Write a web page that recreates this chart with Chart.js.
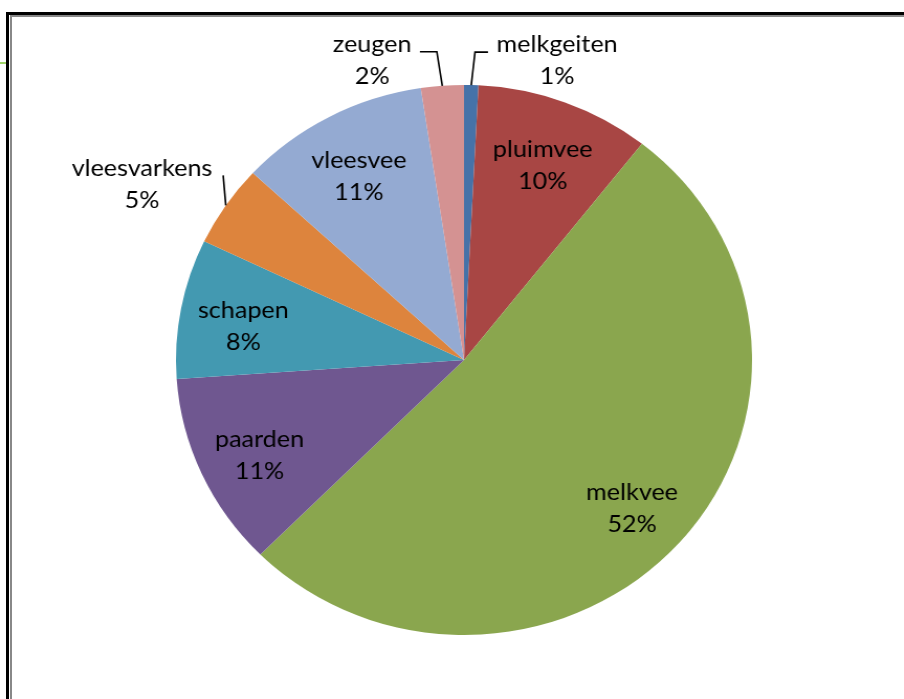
<!DOCTYPE html>
<html>
<head>
<meta charset="utf-8">
<script src="https://cdn.jsdelivr.net/npm/chart.js@4.4.1/dist/chart.umd.min.js"></script>
<style>
    body { margin: 0; background: #fff; overflow: hidden; }
    #wrap { position: relative; width: 904px; height: 699px; }
    /* the original picture is stretched a bit horizontally */
    #taart { position: absolute; left: 0; top: 0; transform: scaleX(1.0474); transform-origin: 0 0; }
    .lijn { position: absolute; }
</style>
</head>
<body>
<div id="wrap">
    <canvas id="taart" width="863" height="699"></canvas>
    <div class="lijn" style="left:6px; top:12px; width:3px; height:687px; background:#000;"></div>
    <div class="lijn" style="left:6px; top:12px; width:898px; height:3px; background:#000;"></div>
    <div class="lijn" style="left:10px; top:15px; width:2px; height:684px; background:#888;"></div>
    <div class="lijn" style="left:10px; top:15px; width:894px; height:2px; background:#888;"></div>
    <div class="lijn" style="left:0; top:62px; width:6px; height:2px; background:#9fd468;"></div>
</div>
<script>
const categorieen = ['melkgeiten', 'pluimvee', 'melkvee', 'paarden', 'schapen', 'vleesvarkens', 'vleesvee', 'zeugen'];
const aandelen = [0.8, 9.8, 51.9, 11.4, 8.2, 4.8, 10.7, 2.4];
const kleuren = ['#4672A8', '#A84644', '#8AA64E', '#6F5790', '#4399B1', '#DD843D', '#94AAD2', '#D49292'];

// labels die buiten de taart staan, met hun verschuiving t.o.v. de rand
var buitenLabels = {
    'melkgeiten':   { dx: 82, dy: -25, knik: [3.6, -33], eind: [16, -33] },
    'zeugen':       { dx: -67, dy: -26, knik: [-5.2, -34], eind: [-21.4, -34] },
    'vleesvarkens': { dx: -80, dy: -21, knik: null, eind: [-2.5, -30] }
};

var labelPlugin = {
    id: 'taartLabels',
    afterDatasetsDraw: function(chart) {
        var ctx = chart.ctx;
        var meta = chart.getDatasetMeta(0);
        var data = chart.data.datasets[0].data;
        var totaal = data.reduce((a, b) => a + b, 0);

        ctx.save();
        ctx.font = '24px Lato';
        ctx.fillStyle = '#000';
        ctx.textAlign = 'center';
        ctx.textBaseline = 'middle';

        meta.data.forEach(function(arc, i) {
            var naam = chart.data.labels[i];
            var pct = Math.round(data[i] / totaal * 100) + '%';
            var mid = (arc.startAngle + arc.endAngle) / 2;
            var x, y;
            var buiten = buitenLabels[naam];

            if (buiten) {
                var ex = arc.x + Math.cos(mid) * arc.outerRadius;
                var ey = arc.y + Math.sin(mid) * arc.outerRadius;
                ctx.beginPath();
                ctx.strokeStyle = '#000';
                ctx.lineWidth = 1.6;
                ctx.moveTo(ex, ey);
                if (buiten.knik) ctx.lineTo(ex + buiten.knik[0], ey + buiten.knik[1]);
                ctx.lineTo(ex + buiten.eind[0], ey + buiten.eind[1]);
                ctx.stroke();
                x = ex + buiten.dx;
                y = ey + buiten.dy;
            } else {
                x = arc.x + Math.cos(mid) * arc.outerRadius * 0.78;
                y = arc.y + Math.sin(mid) * arc.outerRadius * 0.78 + 6;
            }
            ctx.fillText(naam, x, y - 16);
            ctx.fillText(pct, x, y + 16);
        });
        ctx.restore();
    }
};

window.onload = function() {
    var ctx = document.getElementById('taart').getContext('2d');
    window.taart = new Chart(ctx, {
        type: 'pie',
        data: {
            labels: categorieen,
            datasets: [{
                data: aandelen,
                backgroundColor: kleuren,
                borderWidth: 0
            }]
        },
        options: {
            responsive: false,
            animation: false,
            layout: {
                padding: { left: 168, right: 145, top: 85, bottom: 64 }
            },
            plugins: {
                legend: { display: false },
                tooltip: { enabled: false }
            },
            events: []
        },
        plugins: [labelPlugin]
    });
}
</script>
</body>
</html>
